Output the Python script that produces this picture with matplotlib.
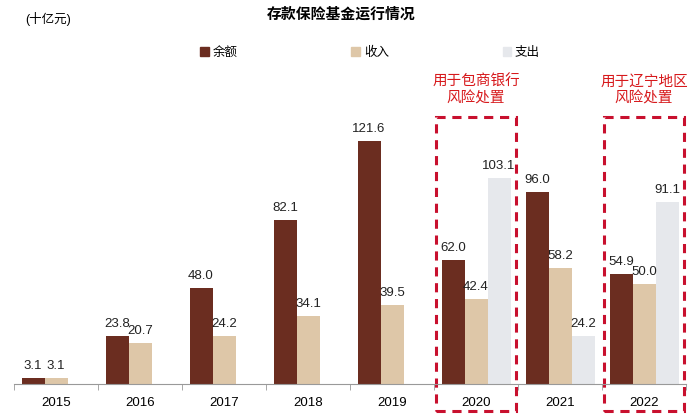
import matplotlib

matplotlib.use("Agg")
import matplotlib.pyplot as plt
import numpy as np
from matplotlib.patches import Rectangle, Patch

plt.rcParams["font.family"] = ["Liberation Sans", "Noto Sans CJK SC", "DejaVu Sans"]

years = ["2015", "2016", "2017", "2018", "2019", "2020", "2021", "2022"]
balance = [3.1, 23.8, 48.0, 82.1, 121.6, 62.0, 96.0, 54.9]
income = [3.1, 20.7, 24.2, 34.1, 39.5, 42.4, 58.2, 50.0]
payout = [None, None, None, None, None, 103.1, 24.2, 91.1]
series_names = ["余额", "收入", "支出"]
colors = ["#6b2d20", "#dec7a8", "#e6e8ec"]
notes = {"2020": "用于包商银行\n风险处置", "2022": "用于辽宁地区\n风险处置"}

fig = plt.figure(figsize=(7, 4.2), dpi=100)
ax = fig.add_axes([14 / 700, 36 / 420, 672 / 700, 280 / 420])

x = np.arange(len(years))
w = 23 / 84
for i, (vals, col) in enumerate(zip([balance, income, payout], colors)):
    for xi, v in zip(x, vals):
        if v is None:
            continue
        pos = xi + (i - 1) * w
        ax.bar(pos, v, width=w, color=col, linewidth=0)
        ax.text(pos, v + 3, f"{v:.1f}", ha="center", va="bottom", fontsize=9.5, color="#222222")

ax.set_xlim(-0.5, len(years) - 0.5)
ax.set_ylim(0, 140)
ax.set_xticks(x)
ax.set_xticklabels(years, fontsize=9.5)
ax.set_xticks(np.arange(-0.5, len(years)), minor=True)
ax.tick_params(axis="x", which="major", length=0, pad=9)
ax.tick_params(axis="x", which="minor", length=4, color="#999999")
ax.set_yticks([])
for side in ["left", "right", "top"]:
    ax.spines[side].set_visible(False)
ax.spines["bottom"].set_color("#999999")

# red dashed boxes for the two risk-disposal years
for yr, txt in notes.items():
    xi = years.index(yr)
    ax.add_patch(Rectangle((xi - 0.476, -13.5), 0.952, 147, fill=False, edgecolor="#c8102e",
                           linestyle=(0, (3, 2.2)), linewidth=2.2, clip_on=False))
    ax.text(xi, 139, txt, ha="center", va="bottom", fontsize=10.5, color="#d7191c",
            linespacing=1.25, clip_on=False)

handles = [Patch(color=c) for c in colors]
fig.legend(handles, series_names, loc="center", bbox_to_anchor=(370 / 700, 1 - 53 / 420), ncol=3,
           frameon=False, fontsize=9, handlelength=0.7, handleheight=0.7, handletextpad=0.3,
           columnspacing=9.1)

fig.text(341 / 700, 1 - 14 / 420, "存款保险基金运行情况", ha="center", va="center",
         fontsize=10.7, fontweight="bold")
fig.text(25 / 700, 1 - 19 / 420, "(十亿元)", ha="left", va="center", fontsize=9)

fig.savefig("out.png", dpi=100)
